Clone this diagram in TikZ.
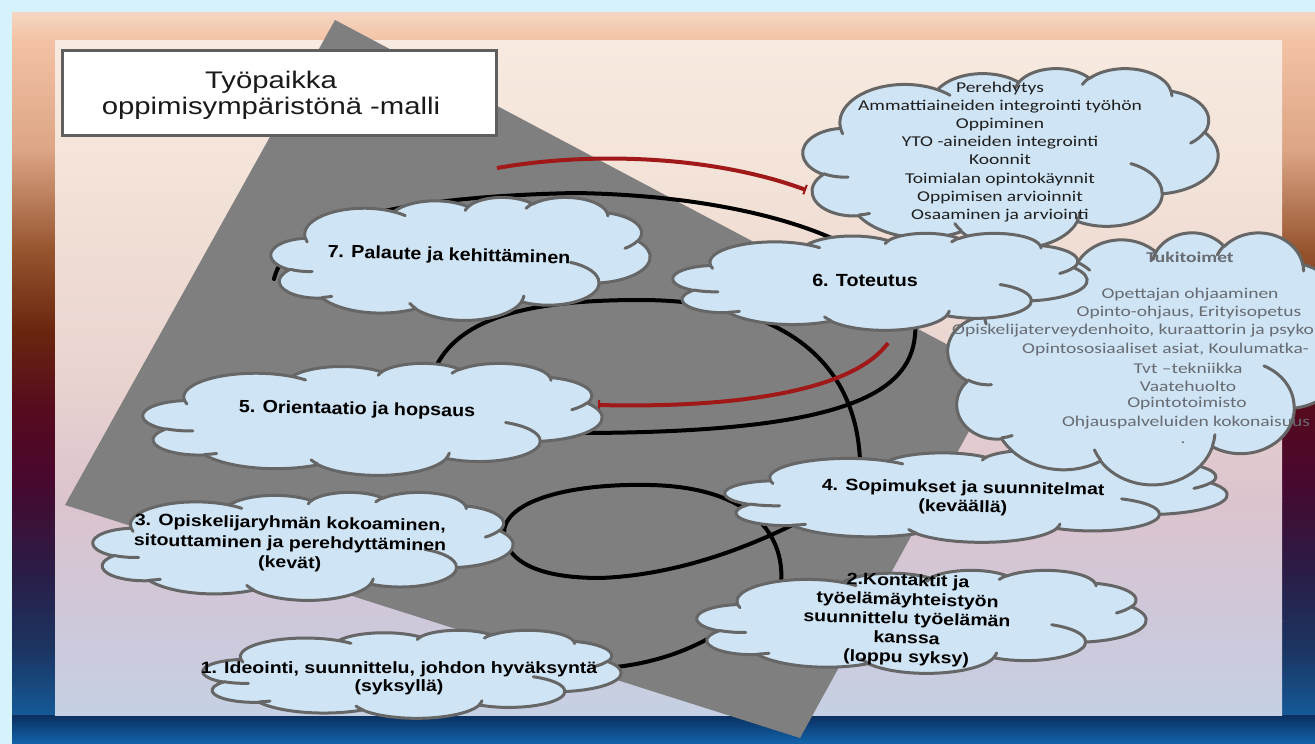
\documentclass[tikz,border=0pt]{standalone}
\usepackage{fontspec}
\setmainfont{Liberation Sans}
\newfontfamily\labfont{Liberation Sans}[FakeStretch=1.12]
\newfontfamily\labfontb{Liberation Sans}[FakeStretch=1.19]
\newfontfamily\titfont{Liberation Sans}[FakeStretch=1.22]
\newfontfamily\listfont{Carlito}[FakeStretch=1.3]
\usetikzlibrary{arrows.meta}
\definecolor{outercyan}{HTML}{D6F2FB}
\definecolor{grayshape}{HTML}{7F7F7F}
\definecolor{cloudblue}{HTML}{CFE4F4}
\definecolor{cloudline}{HTML}{666666}
\definecolor{arcred}{HTML}{A01818}
\definecolor{tukigray}{HTML}{676B72}
\newcommand\parc[4]{arc[x radius=#1, y radius=#2, start angle={atan2(#1*sin(#3),#2*cos(#3))}, delta angle={mod(atan2(#1*sin(#3+#4),#2*cos(#3+#4))-atan2(#1*sin(#3),#2*cos(#3))+720,360)}]}
\newcommand\pcloud[4]{%
\begin{scope}[shift={(#1,#2)},xscale=#3/432,yscale=#4/432]
\filldraw[cloudshape] (39,143.7) \parc{67.53}{91.90}{-190.48748}{123.78053}
 \parc{53.33}{72.67}{-144.10238}{89.94523}
 \parc{43.65}{59.45}{-145.80792}{99.72302}
 \parc{48.57}{65.95}{-130.98607}{117.24173}
 \parc{53.33}{72.73}{-78.70888}{109.02692}
 \parc{67.75}{92.20}{-46.26725}{130.269}
 \parc{57.85}{78.67}{0.62502}{114.03333}
 \parc{67.52}{92.15}{22.4516}{115.17255}
 \parc{77.20}{105.43}{66.24263}{75.71102}
 \parc{43.60}{59.18}{-274.94208}{146.73557}
 \parc{43.45}{59.45}{-246.8285}{152.51885} -- cycle;
\draw[crease] (46.93,261.77) \parc{43.45}{59.45}{86.742}{26.4295}
 (69.28,348.99) \parc{43.60}{59.18}{73.61047}{11.44747}
 (164.78,390.90) \parc{67.52}{92.15}{137.62415}{14.0811}
 (288.27,347.51) \parc{67.52}{92.15}{6.45327}{15.99835}
 (341.29,229.54) \parc{57.85}{78.67}{-70.29235}{70.91737}
 (417.98,153.54) \parc{53.33}{72.73}{30.31803}{27.7515}
 (383.24,54.26) \parc{48.57}{65.95}{-13.74433}{14.8589}
 (290.78,39.52) \parc{48.57}{65.95}{-149.18145}{18.19537}
 (221.41,47.20) \parc{43.65}{59.45}{-163.49427}{17.68635}
 (140.00,51.92) \parc{67.53}{91.90}{-66.70695}{12.31935}
 (41.27,157.89) \parc{67.53}{91.90}{157.65435}{11.85817};
\end{scope}}
\begin{document}
\begin{tikzpicture}[x=1pt,y=-1pt,
  cloudshape/.style={fill=cloudblue,draw=cloudline,line width=3pt,line join=round},
  crease/.style={draw=cloudline,line width=3pt,fill=none,line cap=round},
  blackarc/.style={draw=black,line width=4pt,line cap=round},
  redarc/.style={draw=arcred,line width=4pt,-{Bar[width=10pt,line width=2pt]}},
  lab/.style={font=\labfont\bfseries\fontsize{17.6}{19}\selectfont,align=center,inner sep=0pt,text=black},
  labm/.style={align=center,inner sep=0pt,text=black},
  listtxt/.style={font=\listfont\fontsize{15}{18.1}\selectfont,align=center,inner sep=0pt,text=black!88},
  tuki/.style={font=\listfont\fontsize{15}{18}\selectfont,inner sep=0pt,text=tukigray}]
\useasboundingbox (0,0) rectangle (1315,744);
\clip (0,0) rectangle (1315,744);
% outer background
\fill[outercyan] (0,0) rectangle (1315,744);
\fill[top color={rgb,255:red,245;green,214;blue,194},bottom color={rgb,255:red,243;green,194;blue,164}] (12,12) rectangle (1315,41);
\fill[top color={rgb,255:red,243;green,194;blue,164},bottom color={rgb,255:red,220;green,165;blue,133}] (12,40) rectangle (1315,151);
\fill[top color={rgb,255:red,220;green,165;blue,133},bottom color={rgb,255:red,150;green,84;blue,46}] (12,150) rectangle (1315,251);
\fill[top color={rgb,255:red,150;green,84;blue,46},bottom color={rgb,255:red,106;green,38;blue,14}] (12,250) rectangle (1315,331);
\fill[top color={rgb,255:red,106;green,38;blue,14},bottom color={rgb,255:red,86;green,10;blue,30}] (12,330) rectangle (1315,411);
\fill[top color={rgb,255:red,86;green,10;blue,30},bottom color={rgb,255:red,72;green,8;blue,46}] (12,410) rectangle (1315,481);
\fill[top color={rgb,255:red,72;green,8;blue,46},bottom color={rgb,255:red,42;green,28;blue,70}] (12,480) rectangle (1315,571);
\fill[top color={rgb,255:red,42;green,28;blue,70},bottom color={rgb,255:red,27;green,53;blue,98}] (12,570) rectangle (1315,651);
\fill[top color={rgb,255:red,27;green,53;blue,98},bottom color={rgb,255:red,21;green,90;blue,152}] (12,650) rectangle (1315,716);
\fill[top color={rgb,255:red,10;green,47;blue,94},bottom color={rgb,255:red,18;green,100;blue,172}] (12,715) rectangle (1315,744);
% inner panel
\fill[top color={rgb,255:red,248;green,234;blue,224},bottom color={rgb,255:red,242;green,225;blue,215}] (55,40) rectangle (1282,201);
\fill[top color={rgb,255:red,242;green,225;blue,215},bottom color={rgb,255:red,233;green,211;blue,207}] (55,200) rectangle (1282,381);
\fill[top color={rgb,255:red,233;green,211;blue,207},bottom color={rgb,255:red,220;green,196;blue,206}] (55,380) rectangle (1282,501);
\fill[top color={rgb,255:red,220;green,196;blue,206},bottom color={rgb,255:red,206;green,200;blue,218}] (55,500) rectangle (1282,621);
\fill[top color={rgb,255:red,206;green,200;blue,218},bottom color={rgb,255:red,197;green,209;blue,227}] (55,620) rectangle (1282,715);
% gray tilted panel
\fill[grayshape] (335,20) -- (1001,373) -- (800,738) -- (65,505) -- cycle;
% title
\node[draw={rgb,255:red,95;green,95;blue,95},line width=3pt,fill=white,minimum width=434,minimum height=85,inner sep=0pt] (titlebox) at (279,92.5) {};
\node[font=\titfont\fontsize{24}{26}\selectfont,align=center,inner sep=0pt,text={rgb,255:red,26;green,26;blue,26}] (titletext) at (271,95) {Työpaikka\\oppimisympäristönä -malli};
% spiral arcs
\coordinate (a1s) at (274,279);
\coordinate (a1e) at (585,433);
\draw[blackarc] (a1s) .. controls (290,212) and (440,196) .. (575,193) .. controls (770,196) and (925,252) .. (915,335) .. controls (910,395) and (840,432) .. (a1e);
\coordinate (b1s) at (428,392);
\coordinate (b1e) at (860,480);
\draw[blackarc] (b1s) .. controls (440,320) and (520,300) .. (640,300) .. controls (780,300) and (865,360) .. (b1e);
\coordinate (c1s) at (781,585);
\coordinate (c1e) at (830,505);
\draw[blackarc] (c1s) .. controls (786,530) and (745,487) .. (650,485) .. controls (560,483) and (495,505) .. (505,540) .. controls (512,565) and (545,578) .. (600,578) .. controls (680,575) and (760,545) .. (c1e);
\coordinate (d1s) at (605,668);
\coordinate (d1e) at (740,618);
\draw[blackarc] (d1s) .. controls (660,664) and (705,645) .. (d1e);
\coordinate (r1s) at (497,168);
\coordinate (r1e) at (806,190);
\draw[redarc] (r1s) .. controls (600,150) and (720,158) .. (r1e);
\coordinate (r2s) at (888,343);
\coordinate (r2e) at (598,405);
\draw[redarc] (r2s) .. controls (850,395) and (720,408) .. (r2e);
% clouds
\pcloud{271}{197}{379}{123}
\pcloud{143}{363}{459}{112}
\pcloud{93}{492}{420}{108}
\pcloud{203}{630}{418}{88}
\pcloud{697}{570}{449}{103}
\pcloud{725}{450}{502}{92}
\pcloud{948}{232}{400}{252}
\pcloud{803}{68}{415}{180}
\pcloud{673}{233}{414}{97}
% texts
\node[lab,rotate=-1.5] (l7) at (449,256) {7. Palaute ja kehittäminen};
\node[lab] (l6) at (865,280) {6. Toteutus};
\node[lab,rotate=-1] (l5) at (357,410) {5. Orientaatio ja hopsaus};
\node[labm,rotate=-1,font=\labfontb\bfseries\fontsize{16.4}{19}\selectfont] (l4) at (963,498) {4. Sopimukset ja suunnitelmat\\(keväällä)};
\node[labm,rotate=-1,font=\labfontb\bfseries\fontsize{16.4}{20}\selectfont] (l3) at (290,544) {3. Opiskelijaryhmän kokoaminen,\\sitouttaminen ja perehdyttäminen\\(kevät)};
\node[labm,rotate=-1.5,font=\labfontb\bfseries\fontsize{16.4}{19.2}\selectfont] (l2) at (907,620) {2.Kontaktit ja\\työelämäyhteistyön\\suunnittelu työelämän\\kanssa\\(loppu syksy)};
\node[labm,font=\labfontb\bfseries\fontsize{16.4}{18}\selectfont] (l1) at (399,678) {1. Ideointi, suunnittelu, johdon hyväksyntä\\(syksyllä)};
\node[listtxt] (lst) at (1000,152) {Perehdytys\\Ammattiaineiden integrointi työhön\\Oppiminen\\YTO -aineiden integrointi\\Koonnit\\Toimialan opintokäynnit\\Oppimisen arvioinnit\\Osaaminen ja arviointi};
\node[tuki,font=\listfont\bfseries\fontsize{15}{18}\selectfont] (tk0) at (1190,257) {Tukitoimet};
\node[tuki] (tk1) at (1190,295) {Opettajan ohjaaminen};
\node[tuki] (tk2) at (1189,313) {Opinto-ohjaus, Erityisopetus};
\node[tuki,anchor=west] (tk3) at (952,331) {Opiskelijaterveydenhoito, kuraattorin ja psyko};
\node[tuki,anchor=west] (tk4) at (1022,349) {Opintososiaaliset asiat, Koulumatka-};
\node[tuki] (tk5) at (1188,368) {Tvt –tekniikka};
\node[tuki] (tk6) at (1188,386) {Vaatehuolto};
\node[tuki] (tk7) at (1187,404) {Opintotoimisto};
\node[tuki] (tk8) at (1186,423) {Ohjauspalveluiden kokonaisuus};
\node[tuki] (tk9) at (1183,443) {.};
\end{tikzpicture}
\end{document}
